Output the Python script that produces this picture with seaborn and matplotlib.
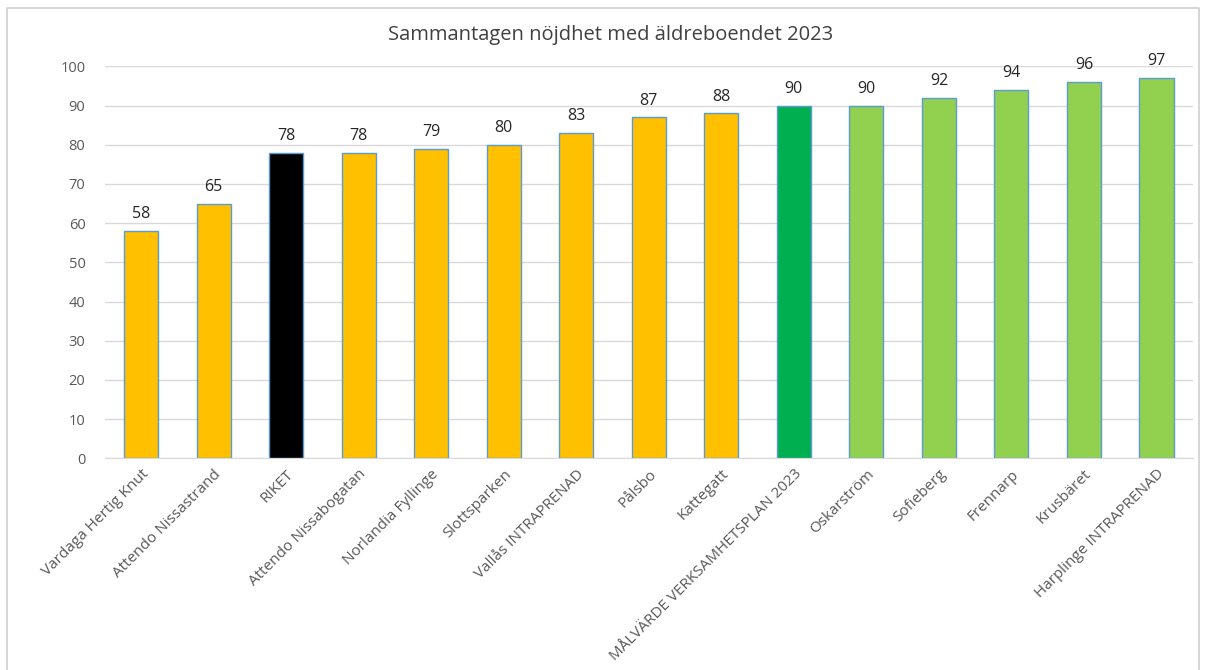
import matplotlib
matplotlib.use("Agg")
import matplotlib.pyplot as plt
import pandas as pd
import seaborn as sns
from matplotlib.lines import Line2D

# chart data
names = ['Vardaga Hertig Knut', 'Attendo Nissastrand', 'RIKET', 'Attendo Nissabogatan',
         'Norlandia Fyllinge', 'Slottsparken', 'Vallås INTRAPRENAD', 'Pålsbo', 'Kattegatt',
         'MÅLVÄRDE VERKSAMHETSPLAN 2023', 'Oskarström', 'Sofieberg', 'Frennarp',
         'Krusbäret', 'Harplinge INTRAPRENAD']
scores = [58, 65, 78, 78, 79, 80, 83, 87, 88, 90, 90, 92, 94, 96, 97]
bar_colors = ['#FFC000', '#FFC000', '#000000', '#FFC000', '#FFC000', '#FFC000', '#FFC000',
              '#FFC000', '#FFC000', '#00B050', '#92D050', '#92D050', '#92D050', '#92D050',
              '#92D050']
yticks = [0, 10, 20, 30, 40, 50, 60, 70, 80, 90, 100]

df = pd.DataFrame({'name': names, 'score': scores})

sns.set_style('white')
plt.rcParams['font.family'] = ['Open Sans', 'DejaVu Sans']

fig = plt.figure(figsize=(12.06, 6.7), dpi=100)
ax = fig.add_axes([0.087, 0.316, 0.902, 0.585])

sns.barplot(data=df, x='name', y='score', hue='name', palette=bar_colors, legend=False,
            width=0.47, edgecolor='#5B9BD5', linewidth=1.0, saturation=1, ax=ax)

for i, v in enumerate(scores):
    ax.text(i, v + 2.2, str(v), ha='center', va='bottom', fontsize=11.5, color='#262626',
            clip_on=False)

ax.set_ylim(0, 100)
ax.set_xlim(-0.5, len(names) - 0.5)
ax.set_yticks(yticks)
ax.yaxis.grid(True, color='#D9D9D9', linewidth=1)
ax.set_axisbelow(True)
ax.tick_params(axis='y', length=0, labelsize=10.5, labelcolor='#595959', pad=14)
ax.tick_params(axis='x', length=0, labelsize=11, labelcolor='#595959', pad=6)
plt.setp(ax.get_xticklabels(), rotation=45, ha='right', rotation_mode='anchor')
ax.set_xlabel('')
ax.set_ylabel('')
for s in ['top', 'right', 'left']:
    ax.spines[s].set_visible(False)
ax.spines['bottom'].set_color('#D9D9D9')

fig.text(0.506, 0.948, 'Sammantagen nöjdhet med äldreboendet 2023', ha='center', va='center',
         fontsize=14.5, color='#404040')

# outer chart frame
frame_x = [7 / 1206, 7 / 1206, 1199 / 1206, 1199 / 1206]
frame_y = [0, 1 - 8 / 670, 1 - 8 / 670, 0]
fig.add_artist(Line2D(frame_x, frame_y, color='#D0D0D0', linewidth=1.2,
                      transform=fig.transFigure))

fig.savefig('out.png', dpi=100)
